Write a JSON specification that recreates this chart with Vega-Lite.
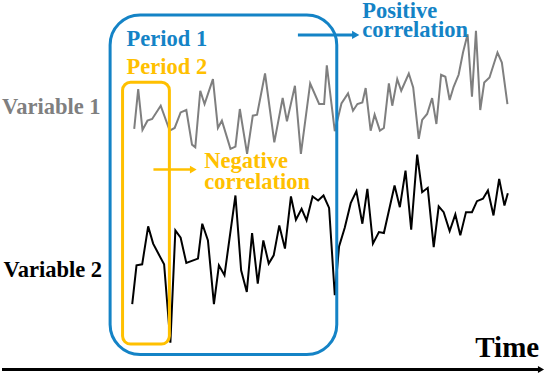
{
  "$schema": "https://vega.github.io/schema/vega-lite/v6.json",
  "width": 546,
  "height": 374,
  "padding": 0,
  "autosize": {"type": "fit", "contains": "padding"},
  "background": "white",
  "config": {"view": {"stroke": null}},
  "datasets": {
    "v1": [
      {"t":132.7,"v":128.3},{"t":136.7,"v":88.3},{"t":141,"v":129.3},{"t":146,"v":120},{"t":150.7,"v":118.3},
      {"t":159.3,"v":105},{"t":168.3,"v":130},{"t":173.3,"v":127.3},{"t":179.3,"v":111.7},{"t":185,"v":109.3},
      {"t":190.7,"v":144},{"t":194,"v":146.7},{"t":199,"v":90},{"t":203.3,"v":103.3},{"t":211.7,"v":78.3},
      {"t":216.7,"v":127.3},{"t":220.7,"v":120},{"t":229.3,"v":148.3},{"t":234.3,"v":146},{"t":238.7,"v":108.3},
      {"t":246,"v":153.3},{"t":251.7,"v":115},{"t":256,"v":114},{"t":264,"v":72.7},{"t":273.3,"v":141.7},
      {"t":281.7,"v":97.3},{"t":286,"v":120.7},{"t":294,"v":85},{"t":300,"v":153.3},{"t":309.3,"v":82.7},
      {"t":318.3,"v":103.3},{"t":323.3,"v":103.3},{"t":326,"v":64.5},{"t":334,"v":130.5},{"t":340.7,"v":102.7},
      {"t":347.3,"v":92.7},{"t":352.3,"v":110},{"t":356.7,"v":103.3},{"t":361.7,"v":101.7},{"t":365,"v":87.3},
      {"t":370,"v":130},{"t":374,"v":114},{"t":379.3,"v":130},{"t":383.3,"v":127.3},{"t":388.3,"v":82.7},
      {"t":391.7,"v":105},{"t":396.7,"v":78.3},{"t":400.7,"v":90},{"t":408.3,"v":72.7},{"t":412.7,"v":86.7},
      {"t":418.3,"v":138.3},{"t":421.7,"v":119.3},{"t":426.7,"v":113.3},{"t":431.7,"v":97.3},{"t":436,"v":123.3},
      {"t":440.7,"v":74},{"t":445,"v":76},{"t":449.3,"v":99.3},{"t":453.3,"v":86},{"t":458.3,"v":74},
      {"t":462.7,"v":51.7},{"t":467.3,"v":33.3},{"t":471.7,"v":96},{"t":475.7,"v":30},{"t":480,"v":109.3},
      {"t":484,"v":81.7},{"t":489.3,"v":76.7},{"t":497.3,"v":51.7},{"t":501.7,"v":61.7},{"t":507.3,"v":103.3}
    ],
    "v2": [
      {"t":130.7,"v":304},{"t":135,"v":265},{"t":140.7,"v":264},{"t":146.7,"v":226},{"t":151.7,"v":243.3},
      {"t":157.3,"v":254},{"t":162.7,"v":264},{"t":169,"v":342.7},{"t":174,"v":230},{"t":179.3,"v":237.3},
      {"t":185,"v":262.7},{"t":196.7,"v":258.3},{"t":201,"v":223.3},{"t":206.7,"v":240},{"t":212.7,"v":304},
      {"t":217.7,"v":265},{"t":223.3,"v":275},{"t":234.3,"v":195},{"t":240,"v":270},{"t":245.7,"v":291.7},
      {"t":251,"v":232.7},{"t":256.7,"v":283.3},{"t":262.3,"v":240},{"t":267.7,"v":263.3},{"t":272.7,"v":255},
      {"t":278.3,"v":225},{"t":284,"v":248.3},{"t":290,"v":196},{"t":295,"v":219.3},{"t":300.7,"v":208.3},
      {"t":305.7,"v":220},{"t":311.7,"v":196},{"t":317.3,"v":200},{"t":322.7,"v":195},{"t":328.3,"v":207.5},
      {"t":334,"v":295},{"t":338.3,"v":246},{"t":344,"v":227.3},{"t":350,"v":202.7},{"t":355.7,"v":190.7},
      {"t":361.7,"v":223.3},{"t":366.7,"v":188.3},{"t":372.3,"v":243.3},{"t":378.3,"v":231.7},{"t":383.3,"v":232.7},
      {"t":394,"v":185},{"t":399.3,"v":206.7},{"t":405,"v":170},{"t":410.7,"v":229.3},{"t":416.7,"v":154},
      {"t":421.7,"v":191.7},{"t":427.3,"v":187.3},{"t":433.3,"v":246.7},{"t":438.3,"v":206},{"t":443.3,"v":211.7},
      {"t":449.3,"v":230.7},{"t":455,"v":214},{"t":460,"v":235},{"t":465.7,"v":211.7},{"t":471.7,"v":211.7},
      {"t":476.7,"v":200.7},{"t":482.7,"v":198.3},{"t":487.7,"v":190},{"t":493.3,"v":215},{"t":499,"v":178.3},
      {"t":504.3,"v":205},{"t":507.7,"v":192.7}
    ]
  },
  "encoding": {
    "x": {"type": "quantitative", "scale": {"domain": [0, 546], "nice": false, "zero": false}, "axis": null},
    "y": {"type": "quantitative", "scale": {"domain": [0, 374], "nice": false, "zero": false, "reverse": true}, "axis": null}
  },
  "layer": [
    {
      "data": {"name": "v1"},
      "mark": {"type": "line", "color": "#7f7f7f", "strokeWidth": 2, "strokeJoin": "miter"},
      "encoding": {"x": {"field": "t"}, "y": {"field": "v"}}
    },
    {
      "data": {"name": "v2"},
      "mark": {"type": "line", "color": "#000000", "strokeWidth": 2, "strokeJoin": "miter"},
      "encoding": {"x": {"field": "t"}, "y": {"field": "v"}}
    },
    {
      "data": {"values": [{"start": 108.5, "end": 336, "lo": 14, "hi": 354.5}]},
      "mark": {"type": "rect", "fill": null, "stroke": "#1483c6", "strokeWidth": 3, "cornerRadius": 30},
      "encoding": {"x": {"field": "start"}, "x2": {"field": "end"}, "y": {"field": "lo"}, "y2": {"field": "hi"}}
    },
    {
      "data": {"values": [{"start": 121, "end": 168, "lo": 81.5, "hi": 344}]},
      "mark": {"type": "rect", "fill": null, "stroke": "#ffc000", "strokeWidth": 3, "cornerRadius": 8},
      "encoding": {"x": {"field": "start"}, "x2": {"field": "end"}, "y": {"field": "lo"}, "y2": {"field": "hi"}}
    },
    {
      "data": {"values": [{"a": 297, "b": 353, "v": 34}]},
      "mark": {"type": "rule", "color": "#1483c6", "strokeWidth": 3},
      "encoding": {"x": {"field": "a"}, "x2": {"field": "b"}, "y": {"field": "v"}}
    },
    {
      "data": {"values": [{"t": 355, "v": 34}]},
      "mark": {"type": "point", "shape": "triangle-right", "filled": true, "color": "#1483c6", "size": 70, "opacity": 1},
      "encoding": {"x": {"field": "t"}, "y": {"field": "v"}}
    },
    {
      "data": {"values": [{"a": 152, "b": 190, "v": 169}]},
      "mark": {"type": "rule", "color": "#ffc000", "strokeWidth": 2.5},
      "encoding": {"x": {"field": "a"}, "x2": {"field": "b"}, "y": {"field": "v"}}
    },
    {
      "data": {"values": [{"t": 192, "v": 169}]},
      "mark": {"type": "point", "shape": "triangle-right", "filled": true, "color": "#ffc000", "size": 60, "opacity": 1},
      "encoding": {"x": {"field": "t"}, "y": {"field": "v"}}
    },
    {
      "data": {"values": [{"a": 0, "b": 540, "v": 369.5}]},
      "mark": {"type": "rule", "color": "#000000", "strokeWidth": 3},
      "encoding": {"x": {"field": "a"}, "x2": {"field": "b"}, "y": {"field": "v"}}
    },
    {
      "data": {"values": [{"t": 541, "v": 369.5}]},
      "mark": {"type": "point", "shape": "triangle-right", "filled": true, "color": "#000000", "size": 50, "opacity": 1},
      "encoding": {"x": {"field": "t"}, "y": {"field": "v"}}
    },
    {
      "data": {"values": [
        {"label": "Period 1", "t": 125, "v": 45},
        {"label": "Positive", "t": 361.5, "v": 17},
        {"label": "correlation", "t": 361.5, "v": 36}
      ]},
      "mark": {"type": "text", "align": "left", "baseline": "alphabetic", "font": "Liberation Serif", "fontWeight": "bold", "fontSize": 22.5, "color": "#1483c6"},
      "encoding": {"x": {"field": "t"}, "y": {"field": "v"}, "text": {"field": "label"}}
    },
    {
      "data": {"values": [
        {"label": "Period 2", "t": 125, "v": 73},
        {"label": "Negative", "t": 203, "v": 167.5},
        {"label": "correlation", "t": 203, "v": 188.5}
      ]},
      "mark": {"type": "text", "align": "left", "baseline": "alphabetic", "font": "Liberation Serif", "fontWeight": "bold", "fontSize": 22.5, "color": "#ffc000"},
      "encoding": {"x": {"field": "t"}, "y": {"field": "v"}, "text": {"field": "label"}}
    },
    {
      "data": {"values": [{"label": "Variable 1", "t": 0, "v": 113}]},
      "mark": {"type": "text", "align": "left", "baseline": "alphabetic", "font": "Liberation Serif", "fontWeight": "bold", "fontSize": 22.5, "color": "#7f7f7f"},
      "encoding": {"x": {"field": "t"}, "y": {"field": "v"}, "text": {"field": "label"}}
    },
    {
      "data": {"values": [{"label": "Variable 2", "t": 1.5, "v": 277}]},
      "mark": {"type": "text", "align": "left", "baseline": "alphabetic", "font": "Liberation Serif", "fontWeight": "bold", "fontSize": 22.5, "color": "#000000"},
      "encoding": {"x": {"field": "t"}, "y": {"field": "v"}, "text": {"field": "label"}}
    },
    {
      "data": {"values": [{"label": "Time", "t": 475, "v": 357}]},
      "mark": {"type": "text", "align": "left", "baseline": "alphabetic", "font": "Liberation Serif", "fontWeight": "bold", "fontSize": 29, "color": "#000000"},
      "encoding": {"x": {"field": "t"}, "y": {"field": "v"}, "text": {"field": "label"}}
    }
  ]
}
